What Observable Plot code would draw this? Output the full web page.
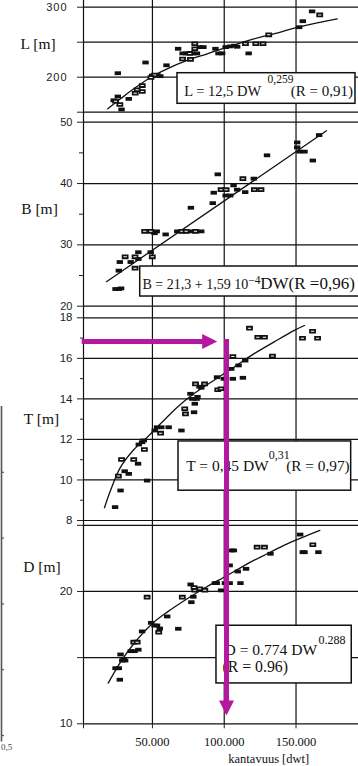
<!DOCTYPE html>
<html>
<head>
<meta charset="utf-8">
<script src="https://cdn.jsdelivr.net/npm/d3@7"></script>
<script src="https://cdn.jsdelivr.net/npm/@observablehq/plot@0.6"></script>
<style>
html, body { margin: 0; padding: 0; background: #fff; }
#wrap { position: relative; width: 358px; height: 766px; overflow: hidden; background: #fff; }
</style>
</head>
<body>
<div id="wrap"></div>
<script>
// ---------- data ----------
// L panel: length over all [m] vs deadweight [dwt]
const lDW = [25900,23000,25900,24300,27300,28500,33500,38000,39400,42900,42900,45200,49800,51500,53500,55500,49000,59800,67900,71000,73500,76000,78500,81000,71000,76500,79500,79500,83000,85500,93900,96000,98500,101000,104000,107000,109000,114800,117000,122000,127000,131000,152200,154700,161200,166500];
const lVal = [205.7,167,172.4,165.7,161,153.9,169,177,182,179.6,188,221,202.4,203,203,201.5,199.5,217,240.6,234,234,234,234,234,226,225.5,247.7,240.6,243,243,240.6,234,234,243,244,245,243.5,247.7,234,247.7,247.7,260.5,271.4,280,294,289];
const lOpen = [0,0,0,1,1,0,0,1,1,1,1,0,0,1,0,0,1,0,0,0,0,1,0,0,1,1,1,1,0,0,0,0,0,0,0,0,0,1,0,1,1,1,0,0,0,1];
const lCurveDW = [18900,27800,37000,49800,60300,74200,88100,102100,118300,134500,153100,178700];
const lCurveVal = [154.8,169.1,183.4,201,212,223.9,233.4,242.9,253.4,262,272.4,283.4];

// B panel: breadth [m]
const bDW = [24300,26600,28200,26600,27300,31000,34900,37900,37900,40200,40200,44600,48800,51500,53000,48800,49900,59200,67300,70500,73500,76800,80000,84000,76800,92000,92700,95500,97800,101300,101000,104200,106500,109000,113000,114600,120600,121000,125600,129800,150800,150800,152400,155900,161700,166100];
const bVal = [22.8,22.8,22.9,25.8,27.2,28.05,27.2,28.05,26.2,28.8,27.7,32.2,32.2,31.9,32.2,28.8,28.05,31.7,32.2,32.2,32.2,32.2,32.2,32.2,36.05,36.8,38.5,41.5,39.0,39.0,38.05,38.05,39.7,39.0,40.8,38.6,40.8,39.0,39.0,44.6,46.7,45.9,45.2,45.2,43.75,47.9];
const bOpen = [0,0,0,0,0,1,0,1,1,0,0,1,1,0,0,0,1,0,0,1,1,0,1,0,0,0,0,0,1,1,0,0,0,0,1,0,0,1,1,0,0,0,0,0,0,0];
const bLineDW = [18000,171200];
const bLineVal = [24.0,48.6];

// T panel: draught [m]
const tDW = [24000,26300,28500,27800,30700,33500,37000,40000,40500,42800,44000,44400,46300,51600,53200,56200,61300,55700,70200,72500,73000,76500,77800,79500,80800,81400,79000,80000,86300,82800,84000,95000,95500,97800,99700,106000,104900,106000,110000,113000,114600,117600,123400,128000,133600,154500,161500,165000];
const tVal = [8.66,10.19,11.01,9.48,10.43,10.30,11.01,10.80,11.75,11.86,11.95,11.5,9.97,12.44,12.60,12.60,12.60,12.31,12.44,13.51,13.26,14.25,14.0,13.76,14.0,14.1,13.34,14.74,14.74,14.6,14.55,15.07,14.45,14.5,14.99,14.99,15.48,16.09,15.65,15.04,15.89,17.49,17.04,17.04,16.11,16.99,17.34,16.99];
const tOpen = [0,1,1,0,0,0,1,0,0,0,0,1,0,0,0,0,0,1,0,1,1,0,0,0,0,0,0,1,1,0,0,0,1,1,0,0,0,1,0,0,0,1,1,1,1,1,1,1];
const tCurveDW = [16600,20800,27800,37000,46400,55600,67300,78800,92700,106700,120600,134500,148500,155900];
const tCurveVal = [8.63,9.48,10.63,11.49,12.11,12.77,13.59,14.25,14.91,15.56,16.22,16.80,17.37,17.62];

// D panel: depth [m]
const dDW = [24300,26600,27300,27800,29000,30000,31000,34900,37500,40200,37000,39400,42800,46300,49100,51400,53200,54400,55100,60300,68000,70800,76600,77100,78500,79500,79000,83000,86500,94800,93500,97800,100500,103800,105000,106700,103800,109400,111300,115200,122900,128000,132200,152900,154700,155900,161700,165600];
const dVal = [14.2,14.2,13.33,15.24,14.78,14.9,14.78,15.49,15.49,15.6,16.17,16.17,16.98,19.57,17.63,17.43,17.43,16.92,17.2,18.11,17.18,19.57,20.53,19.19,19.6,20.1,20.3,20.2,20.1,20.63,20.63,20.08,20.63,20.63,23.1,23.1,21.97,21.51,20.63,21.71,23.35,23.35,22.85,24.3,22.97,22.97,23.53,22.97];
const dOpen = [0,0,0,0,0,0,0,0,0,0,1,1,0,1,0,0,0,1,0,0,0,1,0,0,0,1,1,1,1,0,0,0,0,0,0,0,0,0,0,0,1,1,0,0,0,0,1,0];
const dCurveDW = [19200,27800,37000,49800,60300,74200,88100,102100,116000,129900,143900,166600];
const dCurveVal = [13.07,14.66,16.05,17.56,18.44,19.45,20.38,21.21,22.09,22.85,23.6,24.61];

// reading guide (magenta arrows)
const guideDW = [1100, 95100, 101600];
const guideT = 16.83;
const guideD = 10.63;

// tick values and labels
const xTicks = [2000, 50000, 100000, 150000];
const xTitle = "kantavuus [dwt]";
const lTicks = [150,200,250,300], lLabeled = [200,300];
const bTicks = [20,30,40,50], bMinor = [25,35,45];
const tTicks = [8,10,12,14,16,18], tMinor = [9,11,13,15,17];
const dTicks = [10,15,20,25], dLabeled = [10,20];
const titles = ["L [m]", "B [m]", "T [m]", "D [m]"];
const lEq = ["L = 12,5 DW", "0,259", "(R = 0,91)"];
const bEq = ["B = 21,3 + 1,59 10", "\u22124", "DW(R =0,96)"];
const tEq = ["T = 0,45 DW", "0,31", "(R = 0,97)"];
const dEq = ["D = 0.774 DW", "0.288", "(R = 0.96)"];
const fragTicks = [1,2,3,4,5];
const fragLabel = "0,5";

// ---------- drawing ----------
const SERIF = "Liberation Serif, Times New Roman, serif";
const SANS = "Liberation Sans, Arial, sans-serif";
const INK = "#111";
const MAGENTA = "#b3189f";
const STYLE = "position:absolute;left:0;top:0;background:transparent;overflow:visible;max-width:none;font-family:" + SANS + ";color:#222;";

const rectFilled = {draw(c) { c.rect(-3.2, -1.9, 6.4, 3.8); }};
const rectOpen = {draw(c) { c.rect(-2.5, -1.4, 5, 2.8); }};
const headRight = {draw(c) { c.moveTo(0, 0); c.lineTo(-15, -7.5); c.lineTo(-15, 7.5); c.closePath(); }};
const headDown = {draw(c) { c.moveTo(0, 0); c.lineTo(-7.5, -15); c.lineTo(7.5, -15); c.closePath(); }};

const zip = (xs, ys, os) => xs.map((x, i) => ({dw: x, v: ys[i], open: os ? os[i] === 1 : false}));
const fmtDW = d => d3.format(",")(d).replace(/,/g, ".");

function pointMarks(rows) {
  return [
    Plot.dot(rows.filter(d => !d.open), {x: "dw", y: "v", symbol: rectFilled, fill: INK, stroke: "none"}),
    Plot.dot(rows.filter(d => d.open), {x: "dw", y: "v", symbol: rectOpen, fill: "white", stroke: INK, strokeWidth: 1.8})
  ];
}

function eqMarks(box, segs) {
  return [
    Plot.rect([box], {x1: "x1", x2: "x2", y1: "y1", y2: "y2", fill: "white", stroke: INK, strokeWidth: 1.5}),
    ...segs.map(s => Plot.text([s.t], {x: box.x1, y: box.y1, dx: s.dx, dy: s.dy, text: d => d,
      textAnchor: "start", lineAnchor: "bottom", fontFamily: SERIF, fontSize: s.size, fill: INK}))
  ];
}

function titleMark(t, y, px) {
  return Plot.text([t], {x: 2000, y, dx: px - 83, textAnchor: "start", lineAnchor: "middle",
    fontFamily: SERIF, fontSize: 15.5, fill: INK});
}

function panel(y, marks) {
  return Plot.plot({
    width: 368, height: 766, marginLeft: 83, marginRight: 0, marginTop: 0, marginBottom: 42.7,
    x: {domain: [2000, 200000], range: [83, 367.33], axis: null},
    y,
    style: STYLE,
    marks
  });
}

const grid = vals => Plot.ruleY(vals, {x1: 2000, x2: 200000, stroke: INK, strokeWidth: 1.2});

// background: vertical grid, left frame, x axis
const bg = Plot.plot({
  width: 368, height: 766, marginLeft: 83, marginRight: 0, marginTop: 0, marginBottom: 42.7,
  x: {domain: [2000, 200000], range: [83, 367.33]},
  style: STYLE,
  marks: [
    Plot.ruleX(xTicks, {stroke: INK, strokeWidth: 1.2}),
    Plot.axisX(xTicks, {anchor: "bottom", tickSize: 5, tickPadding: 8, label: null,
      tickFormat: d => d === 2000 ? "" : fmtDW(d), fontFamily: SERIF, fontSize: 12.5, fill: INK}),
    Plot.text([xTitle], {x: 131000, frameAnchor: "bottom", dy: 35, lineAnchor: "middle",
      fontFamily: SERIF, fontSize: 12.5, fill: INK})
  ]
});

// L panel
const plotL = panel({domain: [150, 300], range: [111.7, 6.7]}, [
  grid(lTicks),
  Plot.axisY(lTicks, {anchor: "left", tickSize: 6, tickPadding: 10, label: null,
    tickFormat: d => lLabeled.includes(d) ? String(d) : "", fontSize: 11}),
  Plot.line(zip(lCurveDW, lCurveVal), {x: "dw", y: "v", curve: "catmull-rom", stroke: INK, strokeWidth: 1.3}),
  ...pointMarks(zip(lDW, lVal, lOpen)),
  ...eqMarks({x1: 67460, x2: 191400, y1: 205.7, y2: 162}, [
    {t: lEq[0], dx: 6.7, dy: 22.6, size: 14.5},
    {t: lEq[1], dx: 90, dy: 10, size: 11.5},
    {t: lEq[2], dx: 113.3, dy: 22.6, size: 15}
  ]),
  titleMark(titles[0], 246.7, 20)
]);
plotL.querySelectorAll('g[aria-label="y-axis tick label"] text').forEach(t => t.setAttribute("letter-spacing", "1"));

// B panel
const plotB = panel({domain: [20, 50], range: [305.7, 121.7]}, [
  grid(bTicks),
  Plot.axisY(bTicks, {anchor: "left", tickSize: 6, tickPadding: 5, label: null, fontSize: 11}),
  Plot.axisY(bMinor, {anchor: "left", tickSize: 4, label: null, tickFormat: () => ""}),
  Plot.line(zip(bLineDW, bLineVal), {x: "dw", y: "v", stroke: INK, strokeWidth: 1.3}),
  ...pointMarks(zip(bDW, bVal, bOpen)),
  ...eqMarks({x1: 41500, x2: 194900, y1: 26.47, y2: 21.58}, [
    {t: bEq[0], dx: 2.3, dy: 22.7, size: 14},
    {t: bEq[1], dx: 108, dy: 17.7, size: 11.5},
    {t: bEq[2], dx: 120, dy: 22.7, size: 17}
  ]),
  titleMark(titles[1], 35.88, 20.7)
]);

// T panel
const plotT = panel({domain: [8, 18], range: [520, 317.3]}, [
  grid(tTicks),
  Plot.axisY(tTicks, {anchor: "left", tickSize: 6, tickPadding: 5, label: null, fontSize: 11.5}),
  Plot.axisY(tMinor, {anchor: "left", tickSize: 3, label: null, tickFormat: () => ""}),
  Plot.line(zip(tCurveDW, tCurveVal), {x: "dw", y: "v", curve: "catmull-rom", stroke: INK, strokeWidth: 1.3}),
  ...pointMarks(zip(tDW, tVal, tOpen)),
  ...eqMarks({x1: 68160, x2: 188400, y1: 11.90, y2: 9.47}, [
    {t: tEq[0], dx: 7.7, dy: 29.3, size: 15.5},
    {t: tEq[1], dx: 90.3, dy: 17.7, size: 12},
    {t: tEq[2], dx: 107.7, dy: 29.3, size: 15.3}
  ]),
  titleMark(titles[2], 13.03, 23.3),
  Plot.ruleY([guideT], {x1: guideDW[0], x2: guideDW[1] - 7000, stroke: MAGENTA, strokeWidth: 5}),
  Plot.dot([guideT], {x: guideDW[1], y: d => d, symbol: headRight, fill: MAGENTA, stroke: "none"}),
  Plot.ruleX([guideDW[2]], {y1: guideT + 0.1, y2: 7.77, stroke: MAGENTA, strokeWidth: 5})
]);

// D panel
const plotD = panel({domain: [10, 25], range: [723.3, 524.8]}, [
  grid(dTicks),
  Plot.axisY(dTicks, {anchor: "left", tickSize: 6, tickPadding: 5, label: null,
    tickFormat: d => dLabeled.includes(d) ? String(d) : "", fontSize: 11.5}),
  Plot.line(zip(dCurveDW, dCurveVal), {x: "dw", y: "v", curve: "catmull-rom", stroke: INK, strokeWidth: 1.3}),
  ...pointMarks(zip(dDW, dVal, dOpen)),
  ...eqMarks({x1: 94600, x2: 188800, y1: 17.41, y2: 13.05}, [
    {t: dEq[0], dx: 8, dy: 29.4, size: 15.6},
    {t: dEq[1], dx: 102, dy: 18.7, size: 12},
    {t: dEq[2], dx: 6, dy: 46, size: 15.8}
  ]),
  titleMark(titles[3], 21.84, 22.7),
  Plot.ruleX([guideDW[2]], {y1: 25.4, y2: 11.4, stroke: MAGENTA, strokeWidth: 5}),
  Plot.dot([guideDW[2]], {x: d => d, y: guideD, symbol: headDown, fill: MAGENTA, stroke: "none"})
]);

// fragment of a neighbouring chart at the far left edge
const frag = Plot.plot({
  width: 20, height: 766, marginLeft: 0, marginRight: 0, marginTop: 0, marginBottom: 0,
  x: {domain: [0, 1], range: [1, 4], axis: null},
  y: {domain: [0, 6], range: [800.8, 406], axis: null},
  style: STYLE,
  marks: [
    Plot.ruleX([0], {y1: 0.9, y2: 6, stroke: "#555", strokeWidth: 1.6}),
    Plot.ruleY(fragTicks, {x1: 0, x2: 1, stroke: "#555", strokeWidth: 1.2}),
    Plot.text([fragLabel], {x: 0, y: 0.82, dx: -0.5, textAnchor: "start", fontFamily: SERIF, fontSize: 9, fill: "#444"})
  ]
});

const wrap = document.getElementById("wrap");
[bg, plotL, plotB, plotT, plotD, frag].forEach(p => wrap.appendChild(p));
</script>
</body>
</html>
